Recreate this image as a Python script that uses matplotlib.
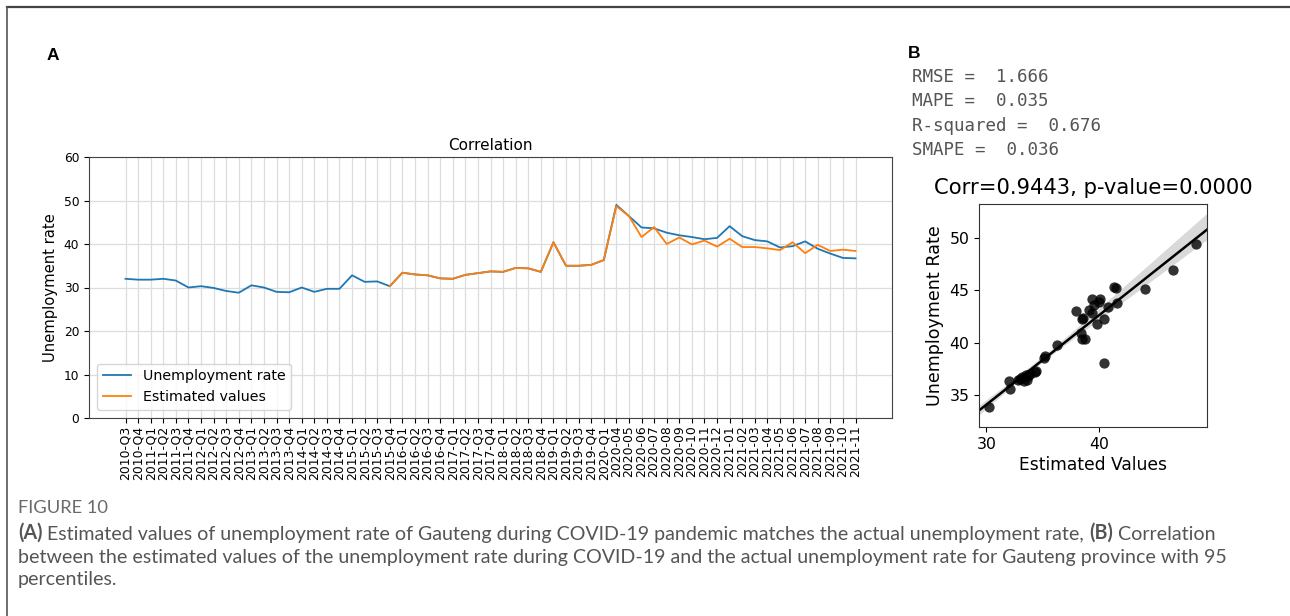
import matplotlib
matplotlib.use("Agg")
import matplotlib.pyplot as plt
import numpy as np
import seaborn as sns

# ---- data ----
periods = ['2010-Q3', '2010-Q4',
           '2011-Q1', '2011-Q2', '2011-Q3', '2011-Q4',
           '2012-Q1', '2012-Q2', '2012-Q3', '2012-Q4',
           '2013-Q1', '2013-Q2', '2013-Q3', '2013-Q4',
           '2014-Q1', '2014-Q2', '2014-Q3', '2014-Q4',
           '2015-Q1', '2015-Q2', '2015-Q3', '2015-Q4',
           '2016-Q1', '2016-Q2', '2016-Q3', '2016-Q4',
           '2017-Q1', '2017-Q2', '2017-Q3', '2017-Q4',
           '2018-Q1', '2018-Q2', '2018-Q3', '2018-Q4',
           '2019-Q1', '2019-Q2', '2019-Q3', '2019-Q4',
           '2020-Q1', '2020-04', '2020-05', '2020-06', '2020-07', '2020-08',
           '2020-09', '2020-10', '2020-11', '2020-12',
           '2021-01', '2021-02', '2021-03', '2021-04', '2021-05', '2021-06',
           '2021-07', '2021-08', '2021-09', '2021-10', '2021-11']

unemployment = [32.0, 31.8, 31.8, 32.0, 31.6, 30.0, 30.3, 29.9, 29.2, 28.8,
                30.5, 30.0, 29.0, 28.9, 30.0, 29.0, 29.7, 29.7, 32.8, 31.3,
                31.4, 30.3, 33.4, 33.0, 32.8, 32.1, 32.0, 32.9, 33.3, 33.7,
                33.6, 34.5, 34.4, 33.6, 40.4, 35.0, 35.0, 35.2, 36.3, 49.0,
                46.4, 43.8, 43.6, 42.6, 42.0, 41.6, 41.1, 41.4, 44.1, 41.8,
                40.9, 40.6, 39.2, 39.5, 40.6, 38.9, 37.8, 36.8, 36.7]

est_start = '2015-Q4'
estimated = [30.3, 33.4, 33.0, 32.8, 32.1, 32.0, 32.9, 33.3, 33.7,
             33.6, 34.5, 34.4, 33.6, 40.4, 35.0, 35.0, 35.2, 36.3, 48.7,
             46.4, 41.6, 43.9, 40.0, 41.5, 39.9, 40.8, 39.4, 41.2, 39.3,
             39.3, 39.0, 38.6, 40.4, 37.9, 39.8, 38.4, 38.7, 38.4]

# scatter panel B
sc_est = [30.2, 32.0, 32.1, 32.8, 33.2, 33.5, 33.6, 33.3, 33.0, 33.9,
          34.3, 34.4, 35.1, 35.2, 36.3, 37.9, 38.5, 38.4, 38.5, 38.7,
          40.4, 39.4, 40.1, 40.0, 39.5, 39.1, 39.4, 40.4, 39.8, 40.8,
          41.3, 41.5, 41.6, 44.1, 46.5, 48.6, 33.7, 38.6]
sc_act = [33.8, 36.3, 35.5, 36.4, 36.7, 36.9, 36.4, 36.3, 36.5, 37.0,
          37.2, 37.3, 38.5, 38.7, 39.8, 43.0, 42.3, 40.9, 40.3, 40.3,
          38.0, 44.2, 44.2, 43.9, 43.6, 43.1, 42.8, 42.3, 41.8, 43.4,
          45.3, 45.2, 43.8, 45.1, 47.0, 49.5, 36.8, 42.4]

metrics = [('RMSE', '1.666'), ('MAPE', '0.035'), ('R-squared', '0.676'), ('SMAPE', '0.036')]
corr_title = 'Corr=0.9443, p-value=0.0000'

W, H = 1290, 616
fig = plt.figure(figsize=(W / 100, H / 100), dpi=100)


def fx(px):
    return px / W


def fy(py):
    return 1 - py / H


# frame lines of the page
fig.add_artist(plt.Line2D([fx(7), 1], [fy(7), fy(7)], color='#444444', lw=1.6))
fig.add_artist(plt.Line2D([fx(7), fx(7)], [fy(7), 0], color='#555555', lw=1.2))

# ---- panel A ----
ax = fig.add_axes([fx(89), fy(418), fx(892) - fx(89), fy(157) - fy(418)])
x_all = np.arange(len(periods))
i0 = periods.index(est_start)
ax.plot(x_all, unemployment, color='#1f77b4', lw=1.3, label='Unemployment rate')
ax.plot(x_all[i0:i0 + len(estimated)], estimated, color='#ff7f0e', lw=1.3, label='Estimated values')
ax.set_xticks(x_all)
ax.set_xticklabels(periods, rotation=90, fontsize=8.9)
ax.set_ylim(0, 60)
ax.set_yticks(range(0, 61, 10))
ax.tick_params(axis='y', labelsize=8.8, length=3.5)
ax.tick_params(axis='x', length=3.5, pad=2)
ax.grid(True, color='#dddddd', lw=0.9)
ax.set_axisbelow(True)
for s in ax.spines.values():
    s.set_color('#444444')
ax.set_title('Correlation', fontsize=11, pad=5)
ax.set_ylabel('Unemployment rate', fontsize=10.6, labelpad=4)
ax.legend(loc='lower left', fontsize=10.3, handlelength=2.0, borderaxespad=0.55)

# ---- panel B ----
axb = fig.add_axes([fx(979), fy(427), fx(1207) - fx(979), fy(204) - fy(427)])
axb.set_xlim(29.35, 49.55)
axb.set_ylim(31.9, 53.3)
sns.regplot(x=np.array(sc_est), y=np.array(sc_act), ax=axb, color='black',
            truncate=False, seed=3,
            scatter_kws={'s': 55, 'alpha': 0.8, 'linewidths': 0},
            line_kws={'lw': 1.8})
axb.set_xlim(29.35, 49.55)
axb.set_ylim(31.9, 53.3)
axb.set_xticks([30, 40])
axb.set_yticks([35, 40, 45, 50])
axb.tick_params(labelsize=11.3, length=3.5)
for s in axb.spines.values():
    s.set_color('#333333')
axb.set_xlabel('Estimated Values', fontsize=12.3, labelpad=3)
axb.set_ylabel('Unemployment Rate', fontsize=12.6, labelpad=4)
axb.set_title(corr_title, fontsize=15.2, pad=7)

# metrics text block
for k, (name, val) in enumerate(metrics):
    fig.text(fx(912), fy(77 + 24.4 * k), f'{name} =  {val}', family='DejaVu Sans Mono',
             fontsize=12.6, color='#555555', va='center')

# panel letters
fig.text(fx(47), fy(55), 'A', family='Liberation Sans', weight='bold', fontsize=12.5, va='center')
fig.text(fx(908), fy(53), 'B', family='Liberation Sans', weight='bold', fontsize=12.5, va='center')

# ---- caption ----
cap_font = 'Lato'
cap_col = '#555555'
cap_size = 14.1
fig.text(fx(18), fy(508), 'FIGURE 10', family=cap_font, fontsize=13.2, color='#6a6a6a', va='center')
t = fig.text(fx(18), fy(533), '(A)', family=cap_font, weight='bold', fontsize=cap_size, color=cap_col, va='center')
t = plt.annotate(' Estimated values of unemployment rate of Gauteng during COVID-19 pandemic matches the actual unemployment rate, ',
                 xy=(1, 0), xycoords=t, va='bottom', family=cap_font, fontsize=cap_size, color=cap_col,
                 annotation_clip=False)
t = plt.annotate('(B)', xy=(1, 0), xycoords=t, va='bottom', family=cap_font, weight='bold',
                 fontsize=cap_size, color=cap_col, annotation_clip=False)
plt.annotate(' Correlation', xy=(1, 0), xycoords=t, va='bottom', family=cap_font,
             fontsize=cap_size, color=cap_col, annotation_clip=False)
fig.text(fx(18), fy(557), 'between the estimated values of the unemployment rate during COVID-19 and the actual '
         'unemployment rate for Gauteng province with 95', family=cap_font, fontsize=cap_size, color=cap_col, va='center')
fig.text(fx(18), fy(580), 'percentiles.', family=cap_font, fontsize=cap_size, color=cap_col, va='center')

fig.savefig('out.png', dpi=100)
